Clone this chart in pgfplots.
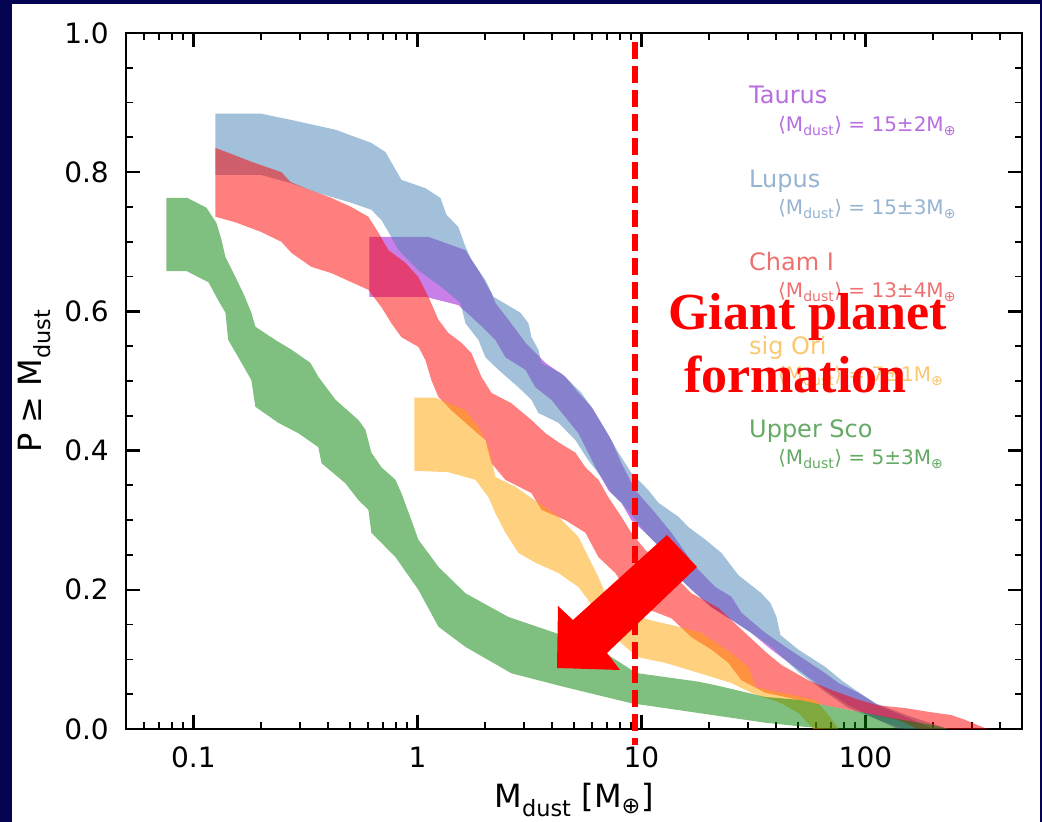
\documentclass[border=0pt]{standalone}
\usepackage{pgfplots}
\pgfplotsset{compat=1.18}
\usepackage{fontspec}
\setmainfont{DejaVu Sans}
\newfontfamily\tnr{Liberation Serif}
\definecolor{navybg}{RGB}{4,4,82}
\definecolor{cTau}{RGB}{148,0,211}
\definecolor{cLup}{RGB}{70,130,180}
\definecolor{cCha}{RGB}{255,0,0}
\definecolor{cOri}{RGB}{255,165,0}
\definecolor{cUSc}{RGB}{0,128,0}
\definecolor{tTau}{RGB}{183,110,225}
\definecolor{tLup}{RGB}{150,180,210}
\definecolor{tCha}{RGB}{238,112,112}
\definecolor{tOri}{RGB}{250,200,110}
\definecolor{tUSc}{RGB}{100,170,100}
\begin{document}
\begin{tikzpicture}
\useasboundingbox (-126bp,-93bp) rectangle (916bp,729bp);
\fill[navybg] (-130bp,-100bp) rectangle (920bp,735bp);
\fill[white] (-114bp,-100bp) rectangle (914bp,725bp);
\begin{axis}[
  at={(0,0)}, anchor=south west,
  scale only axis, width=896bp, height=696bp,
  xmode=log, xmin=0.05, xmax=500, ymin=0, ymax=1,
  xtick={0.1,1,10,100}, xticklabels={0.1,1,10,100},
  minor xtick={0.06,0.07,0.08,0.09,0.2,0.3,0.4,0.5,0.6,0.7,0.8,0.9,2,3,4,5,6,7,8,9,20,30,40,50,60,70,80,90,200,300,400},
  ytick={0,0.2,0.4,0.6,0.8,1.0}, yticklabels={0.0,0.2,0.4,0.6,0.8,1.0},
  minor y tick num=3,
  tick align=inside,
  major tick length=14bp, minor tick length=7bp,
  every major tick/.append style={black, line width=2.4bp},
  every minor tick/.append style={black, line width=1.8bp},
  axis line style={line width=2.8bp},
  tick label style={font=\fontsize{28bp}{34bp}\selectfont, inner sep=0pt},
  xticklabel style={anchor=base, yshift=-38bp},
  yticklabel style={anchor=east, xshift=-17bp},
  every axis x label/.style={at={(axis description cs:0.5,-0.1135)}, anchor=base, inner sep=0pt, font=\fontsize{32bp}{38bp}\selectfont},
  every axis y label/.style={at={(axis description cs:-0.09375,0.5)}, anchor=base, rotate=90, inner sep=0pt, font=\fontsize{32bp}{38bp}\selectfont},
  xlabel={M\textsubscript{dust} [M\textsubscript{⊕}]},
  ylabel={P ≥ M\textsubscript{dust}},
]
% Taurus
\addplot[draw=none, fill=cTau, fill opacity=0.5] coordinates {
(0.610,0.707) (1.120,0.707) (1.638,0.688) (1.872,0.659) (2.140,0.626) (2.230,0.612) (2.548,0.588) (3.035,0.555) (3.727,0.526) (4.579,0.506) (5.231,0.483) (5.980,0.463) (7.344,0.415) (8.138,0.382) (9.398,0.343) (11.55,0.310) (13.61,0.282) (17.42,0.233) (21.40,0.204) (25.21,0.190) (27.96,0.167) (35.78,0.138) (43.95,0.118) (53.96,0.099) (66.3,0.080) (75.8,0.066) (93.0,0.052) (114.3,0.034) (155.6,0.016) (201.2,0)
(140.4,0) (114.3,0.013) (84.0,0.034) (66.3,0.056) (50.2,0.085) (38.05,0.114) (30.97,0.138) (25.21,0.157) (20.54,0.175) (17.42,0.195) (15.09,0.214) (12.80,0.253) (10.42,0.282) (9.018,0.300) (8.138,0.325) (7.121,0.343) (6.231,0.376) (5.231,0.425) (4.579,0.448) (3.965,0.473) (3.363,0.491) (3.035,0.516) (2.471,0.534) (2.230,0.559) (1.872,0.583) (1.524,0.609) (1.086,0.621) (0.610,0.621)
};
% Lupus
\addplot[draw=none, fill=cLup, fill opacity=0.5] coordinates {
(0.1254,0.884) (0.201,0.884) (0.274,0.875) (0.431,0.861) (0.623,0.842) (0.720,0.829) (0.848,0.789) (1.086,0.777) (1.267,0.763) (1.347,0.739) (1.524,0.721) (1.638,0.693) (1.742,0.674) (2.012,0.645) (2.185,0.621) (2.884,0.598) (3.130,0.583) (3.228,0.563) (3.469,0.545) (3.577,0.526) (4.395,0.511) (5.395,0.483) (6.231,0.454) (6.905,0.430) (7.891,0.397) (9.018,0.368) (10.75,0.343) (11.91,0.325) (14.63,0.305) (16.22,0.290) (19.31,0.272) (22.75,0.253) (27.10,0.221) (34.33,0.195) (37.67,0.181) (40.07,0.161) (41.74,0.135) (50.2,0.114) (66.3,0.089) (78.2,0.070) (90.2,0.056) (110.8,0.037) (155.6,0.019) (234.8,0)
(150.9,0) (114.3,0.013) (84.0,0.030) (66.3,0.053) (50.2,0.082) (38.05,0.118) (30.97,0.138) (25.21,0.157) (20.54,0.175) (17.42,0.195) (15.09,0.214) (12.80,0.253) (10.42,0.282) (8.479,0.319) (7.344,0.339) (6.627,0.362) (5.798,0.386) (5.073,0.415) (4.262,0.440) (3.469,0.454) (3.228,0.473) (2.824,0.491) (2.300,0.516) (2.012,0.534) (1.872,0.559) (1.638,0.583) (1.556,0.612) (1.280,0.635) (1.010,0.659) (0.823,0.688) (0.765,0.707) (0.691,0.731) (0.623,0.746) (0.507,0.756) (0.361,0.770) (0.274,0.784) (0.201,0.796) (0.1254,0.796)
};
% Cham I
\addplot[draw=none, fill=cCha, fill opacity=0.5] coordinates {
(0.1254,0.835) (0.1815,0.815) (0.247,0.800) (0.271,0.786) (0.316,0.777) (0.413,0.763) (0.507,0.750) (0.604,0.736) (0.670,0.713) (0.742,0.688) (0.884,0.670) (1.010,0.649) (1.120,0.621) (1.241,0.588) (1.375,0.569) (1.571,0.555) (1.742,0.540) (1.931,0.506) (2.140,0.483) (2.628,0.468) (3.228,0.444) (3.727,0.425) (4.262,0.412) (5.073,0.397) (5.623,0.376) (6.426,0.358) (7.121,0.333) (8.138,0.305) (9.018,0.282) (10.42,0.257) (12.80,0.233) (16.72,0.195) (22.06,0.174) (27.10,0.147) (35.78,0.111) (42.17,0.092) (55.66,0.070) (70.5,0.056) (93.0,0.042) (114.3,0.034) (150.9,0.030) (197.1,0.024) (242.1,0.020) (279.5,0.013) (343.4,0.001) (360,0)
(172.5,0) (140.4,0.013) (100,0.023) (70.5,0.032) (50.2,0.042) (35.78,0.052) (27.96,0.070) (24.45,0.095) (20.54,0.114) (16.72,0.132) (13.61,0.159) (11.55,0.168) (9.696,0.175) (8.745,0.195) (7.652,0.224) (6.426,0.247) (5.623,0.282) (4.579,0.300) (3.577,0.315) (3.228,0.339) (2.471,0.358) (2.140,0.382) (2.012,0.415) (1.638,0.440) (1.418,0.458) (1.241,0.477) (1.155,0.501) (1.086,0.530) (1.010,0.549) (0.848,0.563) (0.765,0.583) (0.691,0.606) (0.604,0.631) (0.507,0.642) (0.413,0.655) (0.336,0.664) (0.274,0.684) (0.247,0.700) (0.201,0.714) (0.154,0.728) (0.1254,0.736)
};
% sig Ori
\addplot[draw=none, fill=cOri, fill opacity=0.5] coordinates {
(0.970,0.476) (1.203,0.476) (1.638,0.458) (1.872,0.434) (2.075,0.405) (2.230,0.362) (2.738,0.348) (3.469,0.325) (4.262,0.305) (5.231,0.276) (5.798,0.247) (6.426,0.218) (6.905,0.195) (7.652,0.175) (10.75,0.157) (14.63,0.147) (18.53,0.138) (21.40,0.124) (25.21,0.109) (30.04,0.089) (32.28,0.060) (42.17,0.052) (59.8,0.042) (68.4,0.020) (75.8,0)
(58.6,0) (50.2,0.023) (42.17,0.037) (30.97,0.052) (25.21,0.066) (20.54,0.075) (16.22,0.085) (12.80,0.095) (9.696,0.103) (8.479,0.118) (7.344,0.138) (6.426,0.161) (5.798,0.185) (5.231,0.204) (4.262,0.224) (3.363,0.239) (2.824,0.253) (2.471,0.282) (2.230,0.310) (2.075,0.333) (1.815,0.358) (1.375,0.369) (0.970,0.371)
};
% Upper Sco
\addplot[draw=none, fill=cUSc, fill opacity=0.5] coordinates {
(0.0758,0.763) (0.0940,0.763) (0.1143,0.749) (0.1267,0.727) (0.1334,0.703) (0.139,0.678) (0.151,0.655) (0.167,0.626) (0.1815,0.598) (0.189,0.578) (0.232,0.559) (0.274,0.545) (0.333,0.526) (0.361,0.506) (0.431,0.473) (0.545,0.444) (0.586,0.430) (0.623,0.397) (0.691,0.376) (0.798,0.358) (0.848,0.339) (0.940,0.300) (1.010,0.272) (1.241,0.233) (1.638,0.195) (2.548,0.161) (4.131,0.138) (6.905,0.109) (9.018,0.085) (9.696,0.080) (17.97,0.068) (22.06,0.062) (35.78,0.046) (50.2,0.042) (70.5,0.032) (103.1,0.022) (140.4,0.014) (197.1,0.006) (234.8,0)
(68.4,0) (50.2,0.004) (35.78,0.009) (17.97,0.023) (9.018,0.037) (4.579,0.060) (2.628,0.080) (1.638,0.118) (1.241,0.147) (1.010,0.200) (0.798,0.247) (0.623,0.282) (0.604,0.315) (0.545,0.329) (0.477,0.353) (0.373,0.382) (0.361,0.405) (0.294,0.425) (0.239,0.440) (0.189,0.463) (0.1815,0.501) (0.164,0.526) (0.143,0.559) (0.139,0.598) (0.129,0.616) (0.1167,0.642) (0.0930,0.658) (0.0758,0.658)
};
\end{axis}
\begin{scope}[x=1bp, y=-1bp, shift={(-126bp,729bp)}]
  \tikzset{lg1/.style={anchor=base west, inner sep=0pt, font=\fontsize{24bp}{28bp}\selectfont},
           lg2/.style={anchor=base west, inner sep=0pt, font=\fontsize{20bp}{24bp}\selectfont}}
  \node[lg1, text=tTau] at (749,104) {Taurus};
  \node[lg2, text=tTau] at (778,132) {⟨M\textsubscript{dust}⟩ = 15±2M\textsubscript{⊕}};
  \node[lg1, text=tLup] at (749,188) {Lupus};
  \node[lg2, text=tLup] at (778,215) {⟨M\textsubscript{dust}⟩ = 15±3M\textsubscript{⊕}};
  \node[lg1, text=tCha] at (749,271) {Cham I};
  \node[lg2, text=tCha] at (778,298) {⟨M\textsubscript{dust}⟩ = 13±4M\textsubscript{⊕}};
  \node[lg1, text=tOri] at (749,355) {sig Ori};
  \node[lg2, text=tOri] at (778,382) {⟨M\textsubscript{dust}⟩ = 7±1M\textsubscript{⊕}};
  \node[lg1, text=tUSc] at (749,438) {Upper Sco};
  \node[lg2, text=tUSc] at (778,465) {⟨M\textsubscript{dust}⟩ = 5±3M\textsubscript{⊕}};
  \draw[red, line width=6bp, dash pattern=on 17bp off 7bp] (635,42) -- (635,745);
  \fill[red] (667,535) -- (573,620) -- (558,606) -- (557,668) -- (620,670) -- (607,653) -- (697,567) -- cycle;
  \node[anchor=base west, inner sep=0pt, text=red, font=\tnr\bfseries\fontsize{52bp}{60bp}\selectfont] at (668,330) {Giant planet};
  \node[anchor=base west, inner sep=0pt, text=red, font=\tnr\bfseries\fontsize{52bp}{60bp}\selectfont] at (684,393) {formation};
\end{scope}
\end{tikzpicture}
\end{document}
